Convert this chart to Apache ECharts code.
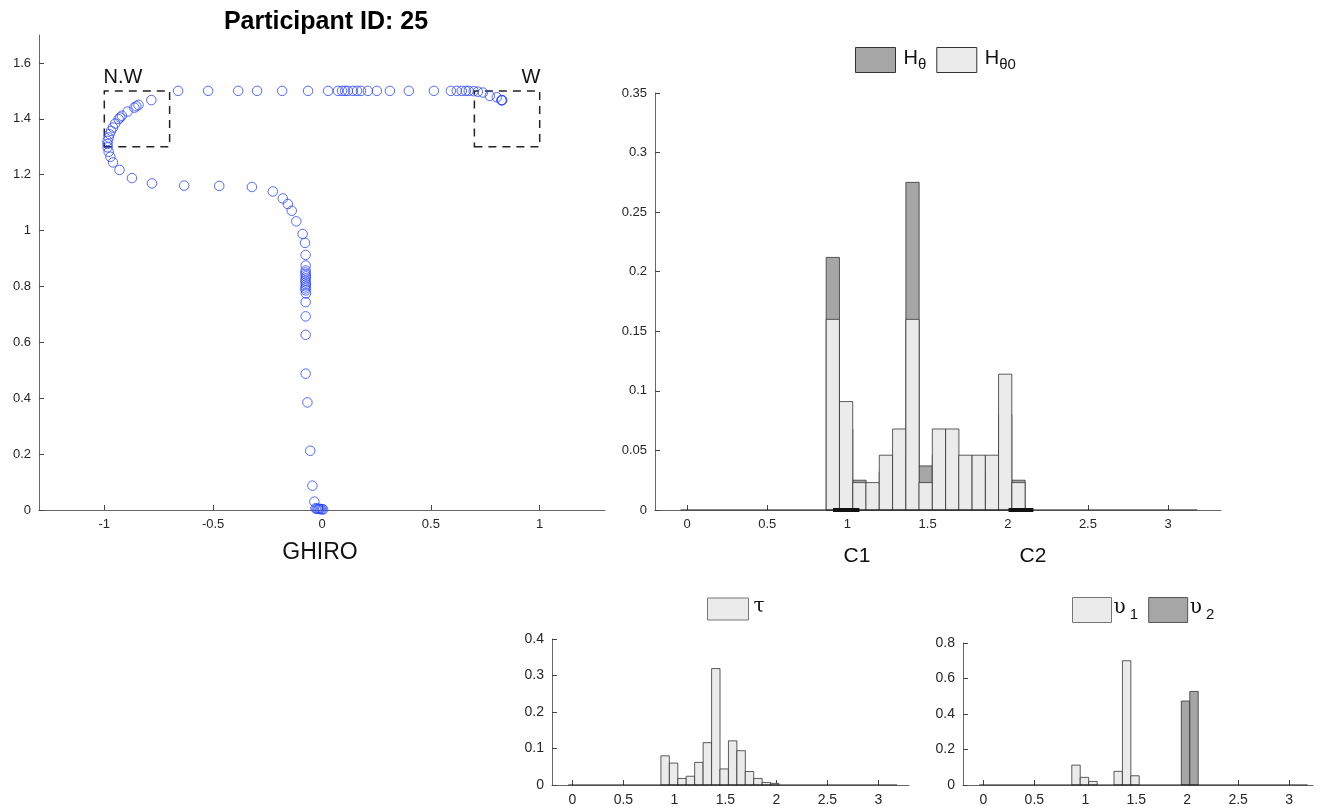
<!DOCTYPE html>
<html>
<head>
<meta charset="utf-8">
<script src="https://cdn.jsdelivr.net/npm/echarts@6.0.0/dist/echarts.min.js"></script>
<style>
html,body{margin:0;padding:0;background:#fff;}
#main{width:1328px;height:807px;}
</style>
</head>
<body>
<div id="main"></div>
<script>
// trajectory (GHIRO)
var ghiroX = [0.005, 0.0, -0.005, -0.01, -0.015, -0.02, -0.025, -0.03, -0.035, -0.044, -0.054, -0.067, -0.075, -0.075, -0.075, -0.075,
  -0.074, -0.075, -0.076, -0.075, -0.074, -0.075, -0.076, -0.075, -0.074, -0.075, -0.076, -0.075, -0.075, -0.075, -0.078, -0.089,
  -0.118, -0.139, -0.157, -0.180, -0.226, -0.322, -0.472, -0.633, -0.781, -0.873, -0.930, -0.960, -0.972, -0.980, -0.985, -0.985,
  -0.985, -0.980, -0.976, -0.969, -0.960, -0.950, -0.934, -0.927, -0.919, -0.893, -0.862, -0.853, -0.843, -0.784,
  -0.661, -0.523, -0.385, -0.298, -0.183, -0.064, 0.028, 0.073, 0.092, 0.106, 0.119, 0.142, 0.161, 0.179, 0.211, 0.252,
  0.312, 0.399, 0.514, 0.592, 0.619, 0.642, 0.661, 0.674, 0.697, 0.716, 0.739, 0.771, 0.803, 0.824, 0.826, 0.828];
var ghiroY = [0.002, 0.003, 0.003, 0.004, 0.004, 0.004, 0.005, 0.006, 0.030, 0.087, 0.212, 0.385, 0.488, 0.627, 0.693, 0.744,
  0.775, 0.786, 0.793, 0.800, 0.807, 0.814, 0.821, 0.829, 0.836, 0.843, 0.850, 0.857, 0.875, 0.913, 0.956, 0.988,
  1.033, 1.071, 1.095, 1.115, 1.140, 1.156, 1.160, 1.161, 1.169, 1.188, 1.217, 1.244, 1.264, 1.282, 1.298, 1.310,
  1.321, 1.333, 1.345, 1.357, 1.369, 1.383, 1.399, 1.405, 1.411, 1.426, 1.440, 1.445, 1.450, 1.467,
  1.5, 1.5, 1.5, 1.5, 1.5, 1.5, 1.5, 1.5, 1.5, 1.5, 1.5, 1.5, 1.5, 1.5, 1.5, 1.5,
  1.5, 1.5, 1.5, 1.5, 1.5, 1.5, 1.5, 1.5, 1.499, 1.497, 1.494, 1.482, 1.477, 1.467, 1.466, 1.467];
var nwBox = [[-1, 1.3], [-0.7, 1.5]];
var wBox = [[0.7, 1.3], [1, 1.5]];
var ghiroXTicks = [-1, -0.5, 0, 0.5, 1];
var ghiroYTicks = [0, 0.2, 0.4, 0.6, 0.8, 1, 1.2, 1.4, 1.6];

// histograms (non-zero bins only)
var binCenters = [0.909, 0.992, 1.075, 1.157, 1.240, 1.323, 1.406, 1.488, 1.571, 1.654, 1.736, 1.819, 1.902, 1.984, 2.067];
var binWidth = 0.0827;
var baseSpan = [-0.041, 3.183];
var hTheta  = [0.212, 0.068, 0.025, 0.016, 0.032, 0.046, 0.275, 0.037, 0.046, 0.046, 0.032, 0.032, 0.032, 0.080, 0.025];
var hTheta0 = [0.160, 0.091, 0.023, 0.023, 0.046, 0.068, 0.160, 0.023, 0.068, 0.068, 0.046, 0.046, 0.046, 0.114, 0.023];
var tau     = [0.080, 0.060, 0.018, 0.024, 0.062, 0.116, 0.319, 0.044, 0.121, 0.094, 0.037, 0.018, 0.007, 0.0045, 0];
var ups1    = [0.112, 0.043, 0.020, 0, 0, 0.077, 0.700, 0.052, 0, 0, 0, 0, 0, 0, 0];
var ups2    = [0, 0, 0, 0, 0, 0, 0, 0, 0, 0, 0, 0, 0, 0.473, 0.527];
var c1Span = [0.91, 1.075];
var c2Span = [2.005, 2.16];
var histXTicks = [0, 0.5, 1, 1.5, 2, 2.5, 3];

var FONT = 'Liberation Sans, Arial, Helvetica, sans-serif';
var DARK = '#a6a6a6', LIGHT = '#ebebeb', EDGE = '#333';

function pairs(xs, ys)
{
    var out = [];
    for (var i = 0; i < xs.length; i++) {
        out.push([xs[i], ys[i]]);
    }
    return out;
}

function barItem(fill)
{
    return function(params, api) {
        var c = api.value(0), v = api.value(1);
        if (!(v > 0)) {
            return null;
        }
        var p0 = api.coord([c - binWidth / 2, v]);
        var p1 = api.coord([c + binWidth / 2, 0]);
        return {
            type: 'rect',
            shape: {x: p0[0], y: p0[1], width: p1[0] - p0[0], height: p1[1] - p0[1]},
            style: {fill: fill, stroke: EDGE, lineWidth: 0.8}
        };
    };
}

function histSeries(name, idx, vals, fill)
{
    return {
        name: name, type: 'custom', xAxisIndex: idx, yAxisIndex: idx,
        itemStyle: {color: fill, borderColor: EDGE, borderWidth: 1},
        renderItem: barItem(fill), encode: {x: 0, y: 1},
        data: pairs(binCenters, vals), z: 3
    };
}

function segSeries(idx, span, width)
{
    return {
        type: 'line', xAxisIndex: idx, yAxisIndex: idx, symbol: 'none', silent: true, z: 4,
        lineStyle: {color: '#111', width: width},
        data: [[span[0], 0], [span[1], 0]]
    };
}

function xAxisCfg(idx, min, max, ticks, size)
{
    return {
        type: 'value', gridIndex: idx, min: min, max: max,
        axisLine: {show: true, onZero: false, lineStyle: {color: '#666', width: 1}},
        axisTick: {show: true, inside: true, length: 5, customValues: ticks, lineStyle: {color: '#444'}},
        axisLabel: {customValues: ticks, color: '#262626', fontSize: size, fontFamily: FONT, margin: 8},
        splitLine: {show: false}
    };
}

function yAxisCfg(idx, min, max, interval, ticks, size)
{
    var cfg = {
        type: 'value', gridIndex: idx, min: min, max: max,
        axisLine: {show: true, onZero: false, lineStyle: {color: '#666', width: 1}},
        axisTick: {show: true, inside: true, length: 5, lineStyle: {color: '#444'}},
        axisLabel: {color: '#262626', fontSize: size, fontFamily: FONT, margin: 8},
        splitLine: {show: false}
    };
    if (ticks) {
        cfg.axisTick.customValues = ticks;
        cfg.axisLabel.customValues = ticks;
    } else {
        cfg.interval = interval;
    }
    return cfg;
}

var subRich = {
    n: {fontSize: 20, fontFamily: FONT, color: '#111', lineHeight: 24, verticalAlign: 'top'},
    s: {fontSize: 15, fontFamily: FONT, color: '#111', lineHeight: 14, verticalAlign: 'bottom'},
    g: {fontSize: 20, fontFamily: 'DejaVu Serif, Liberation Serif, serif', color: '#111', lineHeight: 24, verticalAlign: 'top'},
    gs: {fontSize: 15, fontFamily: FONT, color: '#111', lineHeight: 15, verticalAlign: 'bottom'}
};

var chart = echarts.init(document.getElementById('main'), null, {renderer: 'canvas'});

var option = {
    animation: false,
    backgroundColor: '#fff',
    grid: [
        {left: 39, top: 35, width: 566, height: 475},
        {left: 655, top: 93, width: 566, height: 417},
        {left: 552, top: 639, width: 357, height: 147},
        {left: 963, top: 643, width: 350, height: 143}
    ],
    xAxis: [
        xAxisCfg(0, -1.3, 1.3, ghiroXTicks, 13),
        xAxisCfg(1, -0.2, 3.33, histXTicks, 13),
        xAxisCfg(2, -0.2, 3.30, histXTicks, 14),
        xAxisCfg(3, -0.2, 3.235, histXTicks, 14)
    ],
    yAxis: [
        yAxisCfg(0, 0, 1.7, null, ghiroYTicks, 13),
        yAxisCfg(1, 0, 0.35, 0.05, null, 13),
        yAxisCfg(2, 0, 0.4, 0.1, null, 14),
        yAxisCfg(3, 0, 0.8, 0.2, null, 14)
    ],
    legend: [
        {
            selectedMode: false, padding: 0, left: 855, top: 47, itemWidth: 40, itemHeight: 25, itemGap: 10,
            data: [
                {name: 'Hθ', icon: 'rect', itemStyle: {color: DARK, borderColor: EDGE, borderWidth: 1}},
                {name: 'Hθ0', icon: 'rect', itemStyle: {color: LIGHT, borderColor: EDGE, borderWidth: 1}}
            ],
            formatter: function(name) {
                return name == 'Hθ' ? '{n|H}{s|θ}' : '{n|H}{s|θ0}';
            },
            textStyle: {rich: subRich, padding: [0, 0, 0, 3]}
        },
        {
            selectedMode: false, padding: 0, left: 707, top: 597, itemWidth: 41, itemHeight: 22,
            data: [{name: 'τ', icon: 'rect', itemStyle: {color: LIGHT, borderColor: '#777', borderWidth: 1}}],
            formatter: function(name) { return '{g|τ}'; },
            textStyle: {rich: subRich}
        },
        {
            selectedMode: false, padding: 0, left: 1072, top: 597, itemWidth: 39, itemHeight: 25, itemGap: 10,
            data: [
                {name: 'υ1', icon: 'rect', itemStyle: {color: LIGHT, borderColor: '#777', borderWidth: 1}},
                {name: 'υ2', icon: 'rect', itemStyle: {color: DARK, borderColor: '#555', borderWidth: 1}}
            ],
            formatter: function(name) {
                return name == 'υ1' ? '{g|υ}{gs| 1}' : '{g|υ}{gs| 2}';
            },
            textStyle: {rich: subRich, padding: [0, 0, 0, -3]}
        }
    ],
    graphic: [
        {type: 'text', x: 326, y: 22, style: {text: 'Participant ID: 25', font: 'bold 25px ' + FONT, fill: '#000', align: 'center', verticalAlign: 'middle'}},
        {type: 'text', x: 320, y: 553, style: {text: 'GHIRO', font: '23px ' + FONT, fill: '#111', align: 'center', verticalAlign: 'middle'}},
        {type: 'text', x: 857, y: 556, style: {text: 'C1', font: '21px ' + FONT, fill: '#111', align: 'center', verticalAlign: 'middle'}},
        {type: 'text', x: 1033, y: 556, style: {text: 'C2', font: '21px ' + FONT, fill: '#111', align: 'center', verticalAlign: 'middle'}}
    ],
    series: [
        {
            name: 'GHIRO', type: 'scatter', xAxisIndex: 0, yAxisIndex: 0,
            symbol: 'circle', symbolSize: 9.5,
            itemStyle: {color: 'rgba(0,0,0,0)', borderColor: '#2a46ff', borderWidth: 1},
            data: pairs(ghiroX, ghiroY),
            markArea: {
                silent: true,
                itemStyle: {color: 'rgba(0,0,0,0)', borderColor: '#222', borderWidth: 1.5, borderType: [8, 6]},
                label: {fontSize: 20, fontFamily: FONT, color: '#111'},
                data: [
                    [{coord: nwBox[0], name: 'N.W', label: {position: [0, -23], align: 'left'}}, {coord: nwBox[1]}],
                    [{coord: wBox[0], name: 'W', label: {position: ['100%', -23], align: 'right'}}, {coord: wBox[1]}]
                ]
            }
        },
        segSeries(1, baseSpan, 1.2),
        histSeries('Hθ', 1, hTheta, DARK),
        histSeries('Hθ0', 1, hTheta0, LIGHT),
        segSeries(1, c1Span, 4),
        segSeries(1, c2Span, 4),
        segSeries(2, baseSpan, 1.2),
        histSeries('τ', 2, tau, LIGHT),
        segSeries(3, baseSpan, 1.2),
        histSeries('υ1', 3, ups1, LIGHT),
        histSeries('υ2', 3, ups2, DARK)
    ]
};

chart.setOption(option);
</script>
</body>
</html>
